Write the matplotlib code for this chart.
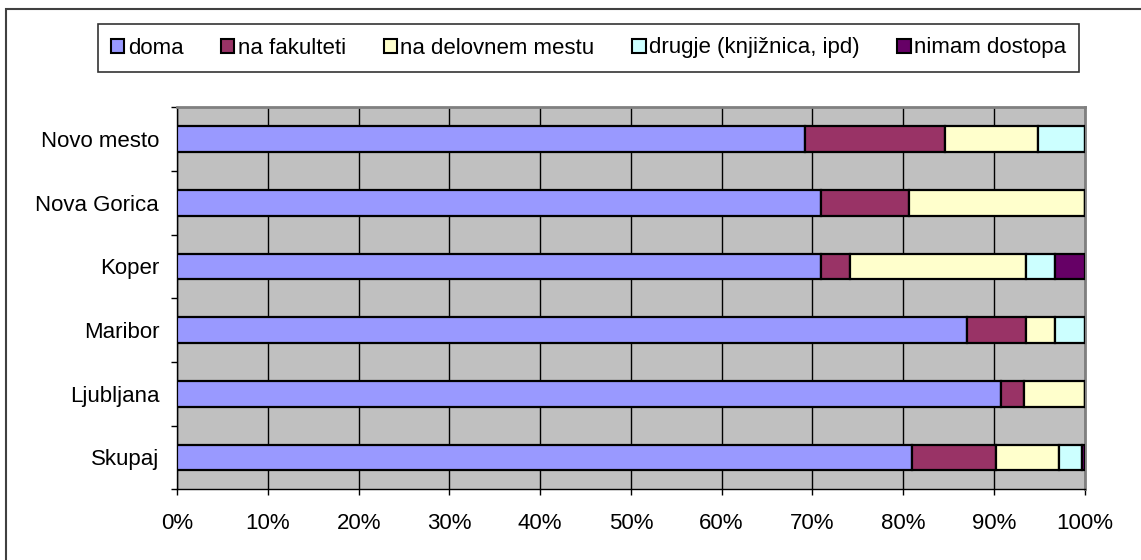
import numpy as np
import matplotlib
matplotlib.use("Agg")
from matplotlib import pyplot as plt
from matplotlib.patches import Rectangle

plt.rcParams['font.family'] = ['Liberation Sans', 'DejaVu Sans']

# categories bottom to top, as drawn
mesta = ['Skupaj', 'Ljubljana', 'Maribor', 'Koper', 'Nova Gorica', 'Novo mesto']
serije = ['doma', 'na fakulteti', 'na delovnem mestu', 'drugje (knjižnica, ipd)', 'nimam dostopa']
barve = ['#9999FF', '#993366', '#FFFFCC', '#CCFFFF', '#660066']

doma = [81.0, 90.8, 87.1, 71.0, 71.0, 69.2]
fakulteta = [9.2, 2.5, 6.5, 3.2, 9.7, 15.4]
delovno = [7.0, 6.7, 3.2, 19.4, 19.3, 10.3]
drugje = [2.5, 0.0, 3.2, 3.2, 0.0, 5.1]
nimam = [0.3, 0.0, 0.0, 3.2, 0.0, 0.0]

vrednosti = [doma, fakulteta, delovno, drugje, nimam]
xticks = np.arange(0, 101, 10)

fig = plt.figure(figsize=(11.41, 5.6), dpi=100)
# outer chart border (cut off at right and bottom)
fig.patches.append(Rectangle((6 / 1141, -0.1), 1.2, 1 - 9 / 560 + 0.1, transform=fig.transFigure,
                             fill=False, edgecolor='#404040', linewidth=1.5))

ax = fig.add_axes([177.3 / 1141, 1 - 489.3 / 560, 907.2 / 1141, 382 / 560])
ax.set_facecolor('#C0C0C0')

y = np.arange(len(mesta))
levo = np.zeros(len(mesta))
handles = []
for ime, vals, c in zip(serije, vrednosti, barve):
    vals = np.array(vals)
    h = ax.barh(y, vals, left=levo, height=0.4, color=c, edgecolor='black', linewidth=1.6, label=ime, zorder=3)
    handles.append(h)
    levo += vals

ax.set_xlim(0, 100)
ax.set_ylim(-0.5, len(mesta) - 0.5)
ax.set_xticks(xticks)
ax.set_xticklabels([f'{v}%' for v in xticks], fontsize=16)
ax.xaxis.grid(True, color='black', linewidth=1.0, zorder=1)
ax.set_axisbelow(True)

ax.set_yticks(np.arange(-0.5, len(mesta), 1.0))
ax.set_yticklabels([])
ax.set_yticks(y, minor=True)
ax.set_yticklabels(mesta, minor=True, fontsize=16)
ax.tick_params(axis='y', which='minor', length=0, pad=13)
ax.tick_params(axis='y', which='major', direction='out', length=4, width=1, color='black')
ax.tick_params(axis='x', direction='out', length=4, width=1, color='black', pad=13)

for s in ['top', 'right']:
    ax.spines[s].set_color('#808080')
    ax.spines[s].set_linewidth(2)
for s in ['left', 'bottom']:
    ax.spines[s].set_color('black')
    ax.spines[s].set_linewidth(1)

leg = fig.legend(handles, serije, loc='center', bbox_to_anchor=((97 + 1080) / 2 / 1141, 1 - 48 / 560),
                 ncol=5, fontsize=16, frameon=True, fancybox=False, shadow=False,
                 handlelength=0.6, handleheight=0.6, handletextpad=0.15, columnspacing=1.7,
                 borderpad=0.6, borderaxespad=0)
leg.get_frame().set_edgecolor('black')
leg.get_frame().set_linewidth(1.2)
for p in leg.get_patches():
    p.set_linewidth(1.5)

fig.savefig('out.png', dpi=100)
